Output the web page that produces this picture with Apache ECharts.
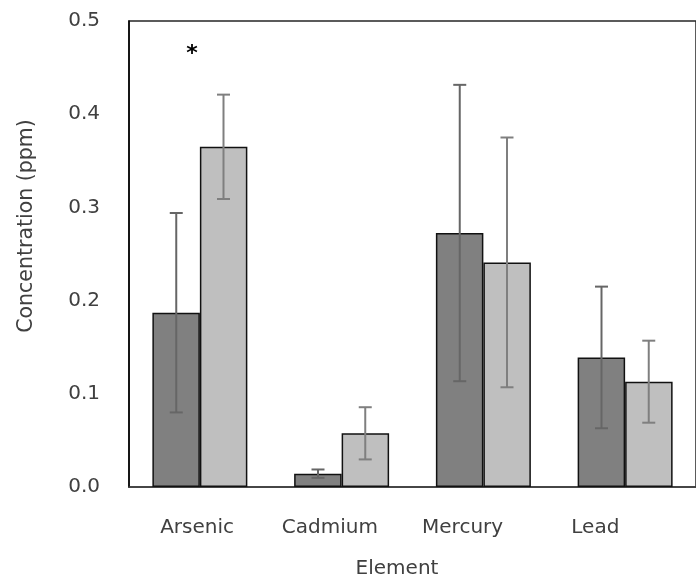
<!DOCTYPE html>
<html><head><meta charset="utf-8">
<script src="https://cdn.jsdelivr.net/npm/echarts@6/dist/echarts.min.js"></script>
</head><body style="margin:0;background:#fff">
<div id="c" style="width:696px;height:580px"></div>
<script>
const categories = ['Arsenic', 'Cadmium', 'Mercury', 'Lead'];
const seriesDark = [0.187, 0.0143, 0.2725, 0.139];
const errDark = [0.107, 0.0045, 0.159, 0.076];
const seriesLight = [0.365, 0.0576, 0.241, 0.113];
const errLight = [0.056, 0.028, 0.134, 0.044];
const yTickValues = [0, 0.1, 0.2, 0.3, 0.4, 0.5];
const yTitle = 'Concentration (ppm)';
const xTitle = 'Element';
const annotation = '*';

const FONT = 'DejaVu Sans';
const TXT = '#404040';

function errData(vals, errs) {
  return vals.map((v, i) => [i, v - errs[i], v + errs[i]]);
}
function errSeries(vals, errs, side, color) {
  return {
    type: 'custom',
    xAxisIndex: 0, yAxisIndex: 0,
    z: 10,
    data: errData(vals, errs),
    renderItem: function (params, api) {
      const band = api.size([1, 0])[0];
      const off = side * band / 6;
      const lo = api.coord([api.value(0), api.value(1)]);
      const hi = api.coord([api.value(0), api.value(2)]);
      const x = lo[0] + off;
      const cap = 6.5;
      const style = { stroke: color, lineWidth: 2, fill: null };
      return {
        type: 'group',
        children: [
          { type: 'line', shape: { x1: x, y1: lo[1], x2: x, y2: hi[1] }, style },
          { type: 'line', shape: { x1: x - cap, y1: lo[1], x2: x + cap, y2: lo[1] }, style },
          { type: 'line', shape: { x1: x - cap, y1: hi[1], x2: x + cap, y2: hi[1] }, style }
        ]
      };
    }
  };
}

const chart = echarts.init(document.getElementById('c'), null, { renderer: 'canvas' });
chart.setOption({
  backgroundColor: '#fff',
  animation: false,
  grid: [
    { left: 129, top: 21, width: 577, height: 466, show: true, borderColor: '#262626', borderWidth: 1.5, backgroundColor: 'transparent' },
    { left: 130.7, top: 21, width: 531, height: 466, show: false }
  ],
  xAxis: [
    { type: 'category', gridIndex: 0, data: categories,
      axisLine: { show: true, lineStyle: { color: '#404040', width: 1.5 } },
      axisTick: { show: false }, axisLabel: { show: false } },
    { type: 'category', gridIndex: 1, data: categories,
      axisLine: { show: false }, axisTick: { show: false },
      axisLabel: { show: true, color: TXT, fontFamily: FONT, fontSize: 20, margin: 31 } }
  ],
  yAxis: [
    { type: 'value', gridIndex: 0, min: yTickValues[0], max: yTickValues[yTickValues.length - 1], interval: 0.1,
      axisLine: { show: true, lineStyle: { color: '#000', width: 1.5 } },
      axisTick: { show: false }, splitLine: { show: false },
      axisLabel: { color: TXT, fontFamily: FONT, fontSize: 20, margin: 29, formatter: v => v.toFixed(1) } },
    { type: 'value', gridIndex: 1, show: false, min: 0, max: 0.5 }
  ],
  series: [
    { type: 'bar', xAxisIndex: 0, yAxisIndex: 0, data: seriesDark, barGap: '0%', barCategoryGap: '33%',
      itemStyle: { color: '#808080', borderColor: '#111', borderWidth: 1.5 } },
    { type: 'bar', xAxisIndex: 0, yAxisIndex: 0, data: seriesLight, barGap: '0%', barCategoryGap: '33%',
      itemStyle: { color: '#bfbfbf', borderColor: '#111', borderWidth: 1.5 } },
    errSeries(seriesDark, errDark, -1, '#666666'),
    errSeries(seriesLight, errLight, 1, '#7f7f7f')
  ],
  graphic: [
    { type: 'text', x: 27, y: 226, rotation: Math.PI / 2,
      style: { text: yTitle, fill: TXT, font: '20.5px "' + FONT + '"', textAlign: 'center', textVerticalAlign: 'middle' } },
    { type: 'text', x: 397, y: 569,
      style: { text: xTitle, fill: TXT, font: '20px "' + FONT + '"', textAlign: 'center', textVerticalAlign: 'middle' } },
    { type: 'text', x: 192, y: 54,
      style: { text: annotation, fill: '#000', font: 'bold 22px "' + FONT + '"', textAlign: 'center', textVerticalAlign: 'middle' } }
  ]
});
</script>
</body></html>
